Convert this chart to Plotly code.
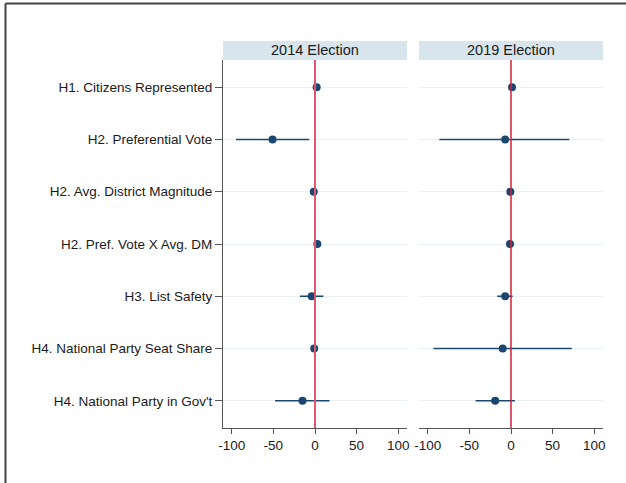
import plotly.graph_objects as go

categories = [
    "H1. Citizens Represented",
    "H2. Preferential Vote",
    "H2. Avg. District Magnitude",
    "H2. Pref. Vote X Avg. DM",
    "H3. List Safety",
    "H4. National Party Seat Share",
    "H4. National Party in Gov't",
]
panels = ["2014 Election", "2019 Election"]

est_2014 = [2.0, -51.0, -1.5, 2.8, -4.0, -1.0, -15.0]
lo_2014 = [1.0, -95.0, -2.5, 1.8, -18.0, -2.0, -48.0]
hi_2014 = [3.0, -7.0, -0.5, 3.8, 10.0, 0.0, 17.5]

est_2019 = [1.2, -7.0, -0.8, -1.2, -7.0, -10.0, -19.0]
lo_2019 = [0.2, -86.0, -1.8, -2.2, -16.5, -93.0, -42.5]
hi_2019 = [2.2, 70.0, 0.2, -0.2, 2.0, 73.0, 4.7]

x_ticks = [-100, -50, 0, 50, 100]
x_tick_labels = [str(v) for v in x_ticks]

NAVY = "#1a476f"
FONT = "Liberation Sans, Arial, sans-serif"

W, H = 626, 483
L, R, T, B = 223, 23, 60, 55
pw = W - L - R
ph = H - T - B
d1 = [0, (407 - L) / pw]
d2 = [(419 - L) / pw, 1]

fig = go.Figure()
for i, (est, lo, hi) in enumerate([(est_2014, lo_2014, hi_2014), (est_2019, lo_2019, hi_2019)]):
    xa = "x" if i == 0 else "x2"
    ya = "y" if i == 0 else "y2"
    fig.add_trace(go.Scatter(
        x=est, y=categories, mode="markers", xaxis=xa, yaxis=ya,
        marker=dict(color=NAVY, size=8),
        error_x=dict(type="data", symmetric=False,
                     array=[h - e for h, e in zip(hi, est)],
                     arrayminus=[e - l for e, l in zip(est, lo)],
                     color=NAVY, thickness=1.6, width=0),
        showlegend=False, cliponaxis=False,
    ))

axis_common = dict(
    range=[-110.5, 110.5], tickvals=x_ticks, ticktext=x_tick_labels,
    ticks="outside", ticklen=5,
    tickcolor="#555", showline=True, linecolor="#555", linewidth=1,
    showgrid=False, zeroline=False, tickfont=dict(size=13.5, color="#1a1a1a", family=FONT),
)
fig.update_layout(
    xaxis=dict(domain=d1, anchor="y", **axis_common),
    xaxis2=dict(domain=d2, anchor="y2", **axis_common),
    yaxis=dict(type="category", categoryorder="array", categoryarray=categories,
               range=[6.52, -0.52], showgrid=True, gridcolor="#eaf1f3", gridwidth=1,
               showline=True, linecolor="#555", linewidth=1, ticks="outside", ticklen=7,
               tickcolor="#555", tickfont=dict(size=13.5, color="#1a1a1a", family=FONT),
               zeroline=False, anchor="x"),
    yaxis2=dict(type="category", categoryorder="array", categoryarray=categories,
                range=[6.52, -0.52], showgrid=True, gridcolor="#eaf1f3", gridwidth=1,
                showline=False, showticklabels=False, ticks="", zeroline=False,
                anchor="x2", matches="y"),
    width=W, height=H,
    margin=dict(l=L, r=R, t=T, b=B),
    paper_bgcolor="white", plot_bgcolor="white",
    font=dict(family=FONT, color="#1a1a1a"),
)

# zero reference lines
for xr, yr, col, wd in [("x", "y domain", "#dc5870", 2), ("x2", "y2 domain", "#d61f3a", 1.5)]:
    fig.add_shape(type="line", xref=xr, yref=yr, x0=0, x1=0, y0=0, y1=1,
                  line=dict(color=col, width=wd), layer="above")

# panel headers
hh = 19 / ph
for dom, title in zip([d1, d2], panels):
    fig.add_shape(type="rect", xref="paper", yref="paper", x0=dom[0], x1=dom[1],
                  y0=1, y1=1 + hh, fillcolor="#d9e5ec", line=dict(width=0), layer="below")
    fig.add_annotation(xref="paper", yref="paper", x=(dom[0] + dom[1]) / 2, y=1 + hh / 2,
                       text=title, showarrow=False, font=dict(size=14.5, color="#1a1a1a", family=FONT),
                       xanchor="center", yanchor="middle")

# outer frame (top and left edges)
fx = (5.5 - L) / pw
fy = (H - B - 3.5) / ph
fig.add_shape(type="line", xref="paper", yref="paper", x0=fx, x1=(W - L) / pw, y0=fy, y1=fy,
              line=dict(color="#444", width=2))
fig.add_shape(type="line", xref="paper", yref="paper", x0=fx, x1=fx, y0=fy, y1=-B / ph,
              line=dict(color="#444", width=2))

fig.write_html("out.html", config={"displayModeBar": False},
               post_script="document.body.style.margin='0';document.body.style.overflow='hidden';")
